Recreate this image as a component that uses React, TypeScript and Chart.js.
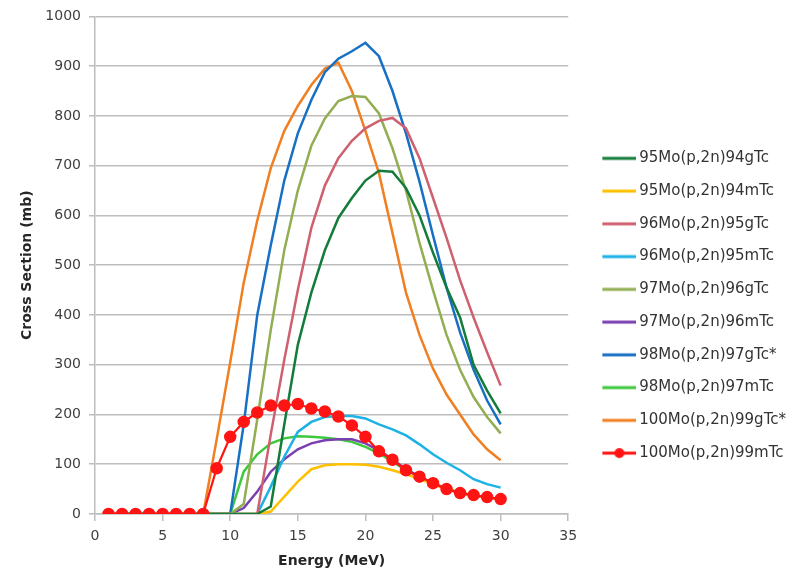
import React, { useEffect, useRef } from 'react';
import { Chart, registerables } from 'chart.js';

Chart.register(...registerables);

// Energy grid (MeV)
const energies = [1, 2, 3, 4, 5, 6, 7, 8, 9, 10, 11, 12, 13, 14, 15, 16, 17, 18, 19, 20, 21, 22, 23, 24, 25, 26, 27, 28, 29, 30];

// Cross sections (mb), one value per energy above
const tc94g = [0, 0, 0, 0, 0, 0, 0, 0, 0, 0, 0, 0, 15, 180, 340, 445, 530, 595, 635, 670, 690, 688, 655, 600, 525, 455, 395, 300, 248, 202];
const tc94m = [0, 0, 0, 0, 0, 0, 0, 0, 0, 0, 0, 0, 5, 35, 65, 90, 98, 100, 100, 99, 95, 88, 80, 70, 60, 50, 43, 37, 33, 29];
const tc95g = [0, 0, 0, 0, 0, 0, 0, 0, 0, 0, 0, 0, 160, 310, 450, 575, 660, 715, 750, 775, 790, 796, 775, 715, 635, 555, 470, 395, 325, 258];
const tc95m = [0, 0, 0, 0, 0, 0, 0, 0, 0, 0, 0, 0, 55, 115, 165, 185, 195, 197, 197, 192, 180, 170, 158, 140, 120, 103, 88, 70, 60, 53];
const tc96g = [0, 0, 0, 0, 0, 0, 0, 0, 0, 0, 20, 190, 370, 530, 650, 740, 795, 830, 840, 838, 805, 735, 650, 545, 450, 360, 290, 235, 195, 162];
const tc96m = [0, 0, 0, 0, 0, 0, 0, 0, 0, 0, 12, 45, 85, 110, 130, 142, 148, 150, 150, 142, 128, 110, 90, 75, 62, 50, 42, 37, 33, 30];
const tc97g = [0, 0, 0, 0, 0, 0, 0, 0, 0, 0, 180, 400, 540, 670, 765, 832, 888, 915, 930, 947, 920, 850, 765, 668, 560, 455, 365, 290, 228, 180];
const tc97m = [0, 0, 0, 0, 0, 0, 0, 0, 0, 0, 85, 120, 142, 152, 156, 155, 153, 150, 145, 135, 122, 105, 88, 75, 62, 52, 43, 37, 33, 30];
const tc99g = [0, 0, 0, 0, 0, 0, 0, 0, 150, 305, 465, 590, 695, 770, 820, 862, 895, 907, 850, 770, 685, 565, 445, 360, 292, 240, 200, 160, 130, 108];
const tc99m = [0, 0, 0, 0, 0, 0, 0, 0, 92, 155, 185, 204, 218, 218, 221, 212, 206, 196, 178, 155, 126, 109, 88, 75, 62, 50, 42, 38, 34, 30];

const seriesNames = [
  '95Mo(p,2n)94gTc',
  '95Mo(p,2n)94mTc',
  '96Mo(p,2n)95gTc',
  '96Mo(p,2n)95mTc',
  '97Mo(p,2n)96gTc',
  '97Mo(p,2n)96mTc',
  '98Mo(p,2n)97gTc*',
  '98Mo(p,2n)97mTc',
  '100Mo(p,2n)99gTc*',
  '100Mo(p,2n)99mTc',
];
const seriesValues = [tc94g, tc94m, tc95g, tc95m, tc96g, tc96m, tc97g, tc97m, tc99g, tc99m];
const seriesColors = ['#137c3a', '#ffc000', '#cf6070', '#1cb2e6', '#92ae52', '#7a3fb0', '#1870c4', '#3ec83e', '#f07f22', '#ff1414'];

const xTicks = { min: 0, max: 35, step: 5 };
const yTicks = { min: 0, max: 1000, step: 100 };

const FONT = "'DejaVu Sans', sans-serif";

function legendImage(color: string, withDot: boolean): HTMLCanvasElement {
  const c = document.createElement('canvas');
  c.width = 55;
  c.height = 14;
  const ctx = c.getContext('2d')!;
  ctx.strokeStyle = color;
  ctx.lineWidth = 3;
  ctx.beginPath();
  ctx.moveTo(21, 7);
  ctx.lineTo(55, 7);
  ctx.stroke();
  if (withDot) {
    ctx.fillStyle = color;
    ctx.beginPath();
    ctx.arc(38, 7, 5, 0, Math.PI * 2);
    ctx.fill();
  }
  return c;
}

export default function App() {
  const ref = useRef<HTMLCanvasElement | null>(null);

  useEffect(() => {
    if (!ref.current) return;
    const images = seriesColors.map((c, i) => legendImage(c, i === 9));
    const datasets = seriesNames.map((name, i) => {
      const isRed = i === 9;
      return {
        label: name,
        data: energies.map((e, j) => ({ x: e, y: seriesValues[i][j] })),
        borderColor: seriesColors[i],
        backgroundColor: seriesColors[i],
        borderWidth: isRed ? 2.2 : 2.5,
        pointRadius: isRed ? 5.5 : 0,
        pointBorderWidth: isRed ? 1.5 : 0,
        pointHoverRadius: isRed ? 5.5 : 0,
        tension: 0,
        order: isRed ? -1 : i,
      };
    });

    const chart = new Chart(ref.current, {
      type: 'line',
      data: { datasets },
      options: {
        animation: false,
        responsive: true,
        maintainAspectRatio: false,
        layout: { padding: { top: 15, left: 0, right: 0, bottom: 0 } },
        plugins: {
          tooltip: { enabled: false },
          legend: {
            position: 'right',
            align: 'center',
            maxWidth: 230,
            title: { display: true, text: '', padding: { top: 7, bottom: 0 }, font: { size: 12 } },
            labels: {
              usePointStyle: true,
              pointStyleWidth: 45.75,
              padding: 17.75,
              color: '#333333',
              font: { family: FONT, size: 15 },
              sort: (a: any, b: any) => a.datasetIndex - b.datasetIndex,
              generateLabels: (ch: any) => {
                const items = Chart.defaults.plugins.legend.labels.generateLabels(ch);
                return items.map((it: any) => ({ ...it, pointStyle: images[it.datasetIndex] }));
              },
            },
          },
        },
        scales: {
          x: {
            type: 'linear',
            min: xTicks.min,
            max: xTicks.max,
            afterFit: (s: any) => { s.height = 61; },
            ticks: { stepSize: xTicks.step, color: '#404040', font: { family: FONT, size: 14 }, padding: 7, callback: (v: any) => String(v) },
            grid: { drawOnChartArea: false, drawTicks: true, tickLength: 7, color: '#bdbdbd', lineWidth: 1.5 },
            border: { display: true, color: '#bdbdbd', width: 1.5 },
            title: { display: true, text: 'Energy (MeV)', color: '#262626', font: { family: FONT, size: 14, weight: 'bold' }, padding: { top: 0, bottom: 5 } },
          },
          y: {
            type: 'linear',
            min: yTicks.min,
            max: yTicks.max,
            afterFit: (s: any) => { s.width = 95; },
            ticks: { stepSize: yTicks.step, color: '#404040', font: { family: FONT, size: 14 }, padding: 8, callback: (v: any) => String(v) },
            grid: { drawTicks: true, tickLength: 6, color: '#bdbdbd', lineWidth: 1.5 },
            border: { display: true, color: '#bdbdbd', width: 1.5 },
            title: { display: true, text: 'Cross Section (mb)', color: '#262626', font: { family: FONT, size: 14, weight: 'bold' }, padding: { top: 19, bottom: 0 } },
          },
        },
      },
    });
    return () => chart.destroy();
  }, []);

  return (
    <div style={{ position: 'fixed', left: 0, top: 0, width: 796, height: 575, background: '#ffffff' }}>
      <canvas ref={ref} />
    </div>
  );
}
